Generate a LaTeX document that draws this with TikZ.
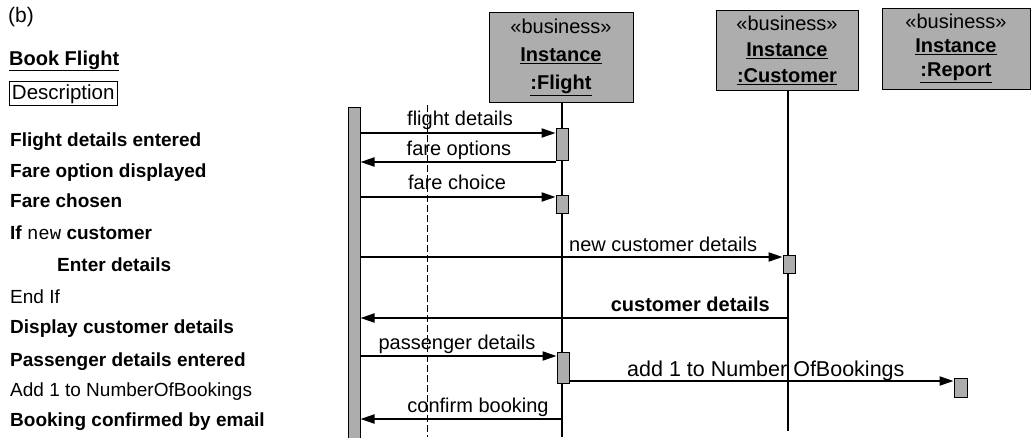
\documentclass[tikz,border=0pt]{standalone}
\usepackage{fontspec}
\setmainfont{Liberation Sans}
\newfontfamily\monofont{Liberation Mono}
\usetikzlibrary{arrows.meta,calc}
\begin{document}
\begin{tikzpicture}[x=1pt,y=1pt,
  lbl/.style={font=\fontsize{20}{22}\selectfont, inner sep=0pt, anchor=base},
  listtxt/.style={font=\fontsize{19}{22}\selectfont\bfseries, anchor=base west, inner sep=0pt},
  listreg/.style={font=\fontsize{19}{22}\selectfont, anchor=base west, inner sep=0pt},
  obj/.style={draw, line width=1pt, fill=black!32, align=center, inner sep=0pt},
  act/.style={draw, line width=0.9pt, fill=black!32, inner sep=0pt, minimum width=12pt},
  msg/.style={line width=2pt, -{Triangle[length=14pt,width=9pt]}},
  life/.style={line width=1.8pt},
]
\useasboundingbox (0,0) rectangle (1034,-437);

% ---- left description ----
\node[listreg, font=\fontsize{21}{22}\selectfont] (b) at (8,-22) {(b)};
\node[listtxt, font=\fontsize{20}{22}\selectfont\bfseries] (title) at (9,-65) {\underline{Book Flight}};
\node[draw, line width=1pt, anchor=base west, font=\fontsize{20.5}{22}\selectfont, inner sep=2.5pt] (desc) at (9,-99) {Description};

\node[listtxt] (l1) at (10,-146) {Flight details entered};
\node[listtxt] (l2) at (10,-177) {Fare option displayed};
\node[listtxt] (l3) at (10,-207) {Fare chosen};
\node[listtxt] (l4) at (10,-239) {If {\mdseries\monofont new} customer};
\node[listtxt] (l5) at (57,-271) {Enter details};
\node[listreg] (l6) at (10,-303) {End If};
\node[listtxt] (l7) at (10,-333) {Display customer details};
\node[listtxt] (l8) at (10,-366) {Passenger details entered};
\node[listreg] (l9) at (10,-396) {Add 1 to NumberOfBookings};
\node[listtxt] (l10) at (10,-426) {Booking confirmed by email};

% ---- objects ----
\node[obj, minimum width=144pt, minimum height=90pt, font=\fontsize{20}{28}\selectfont] (flight) at (561,-57)
  {«business»\\ \textbf{\underline{Instance}}\\ \textbf{\underline{:Flight}}};
\node[obj, minimum width=142pt, minimum height=80pt, font=\fontsize{20}{26}\selectfont] (cust) at (787,-50)
  {«business»\\ \textbf{\underline{Instance}}\\ \textbf{\underline{:Customer}}};
\node[obj, minimum width=148pt, minimum height=81pt, font=\fontsize{20}{24}\selectfont] (rep) at (956,-48.5)
  {«business»\\ \textbf{\underline{Instance}}\\ \textbf{\underline{:Report}}};

% ---- actor bar and dashed line ----
\node[draw, line width=1pt, fill=black!32, minimum width=12pt, minimum height=340pt, anchor=north, inner sep=0pt] (bar) at (354,-107) {};
\coordinate (dtop) at (427,-105);
\coordinate (dbot) at (427,-437);
\draw[line width=0.6pt, dash pattern=on 7pt off 3pt] (dtop) -- (dbot);

% ---- lifelines ----
\coordinate (fend) at (562,-437);
\coordinate (cend) at (788,-431);
\draw[life] (flight.south -| fend) -- (fend);
\draw[life] (cust.south -| cend) -- (cend);

% ---- activations ----
\node[act, minimum height=32pt] (a1) at (562,-144) {};
\node[act, minimum height=18pt] (a2) at (562,-204) {};
\node[act, minimum height=18pt] (ca) at (789,-264) {};
\node[act, minimum height=31pt] (a3) at (563,-367.5) {};
\node[act, minimum height=19pt, minimum width=13pt] (ra) at (960.5,-387.5) {};

% ---- messages ----
\draw[msg] (bar.east |- 0,-133) -- (a1.west |- 0,-133);
\draw[msg] (a1.west |- 0,-162) -- (bar.east |- 0,-162);
\draw[msg] (bar.east |- 0,-197) -- (a2.west |- 0,-197);
\draw[msg] (bar.east |- 0,-257) -- (ca.west |- 0,-257);
\draw[msg] (cend |- 0,-318) -- (bar.east |- 0,-318);
\draw[msg] (bar.east |- 0,-356) -- (a3.west |- 0,-356);
\draw[msg] (a3.east |- 0,-381) -- (ra.west |- 0,-381);
\draw[msg] (fend |- 0,-419) -- (bar.east |- 0,-419);

% ---- message labels ----
\node[lbl] (m1) at (460,-125) {flight details};
\node[lbl] (m2) at (459,-155) {fare options};
\node[lbl] (m3) at (457,-189) {fare choice};
\node[lbl, anchor=base west] (m4) at (569,-251) {new customer details};
\node[lbl, anchor=base east, font=\fontsize{20}{22}\selectfont\bfseries] (m5) at (770,-311) {customer details};
\node[lbl] (m6) at (457,-349) {passenger details};
\node[lbl, anchor=base west, font=\fontsize{21.5}{22}\selectfont] (m7) at (627,-376) {add 1 to Number OfBookings};
\node[lbl] (m8) at (478,-412) {confirm booking};
\end{tikzpicture}
\end{document}
